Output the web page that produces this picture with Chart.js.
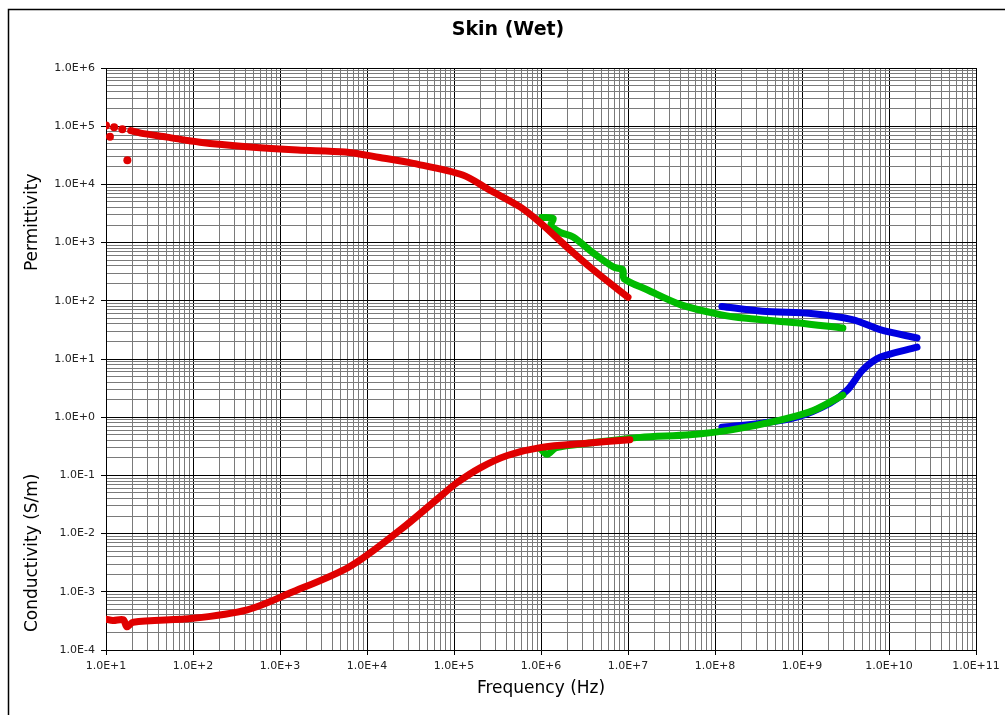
<!DOCTYPE html>
<html>
<head>
<meta charset="utf-8">
<title>Skin (Wet)</title>
<script src="https://cdn.jsdelivr.net/npm/chart.js@4.4.1/dist/chart.umd.min.js"></script>
<style>
  body { margin: 0; background: #fff; }
  canvas { display: block; }
</style>
</head>
<body>
<canvas id="skinChart" width="1005" height="715"></canvas>
<script>
// values: frequency in Hz, permittivity / conductivity (S/m)

// red set, low frequency range
const redScatterFreq = [10, 11.1, 12.4, 15.4, 17.6];
const redScatterVal = [1.03e5, 6.6e4, 9.6e4, 8.9e4, 2.6e4];
const redPermFreq = [19.2, 25, 50, 120, 450, 1600, 5600, 14000, 34000, 126000, 257000, 575000, 977000, 2.0e6, 4.0e6, 1.0e7];
const redPermVal = [8.4e4, 7.6e4, 6.5e4, 5.3e4, 4.4e4, 3.9e4, 3.6e4, 2.9e4, 2.3e4, 1.45e4, 8.0e3, 4.1e3, 2.2e3, 830, 340, 115];
const redCondFreq = [10, 12, 15.8, 17.4, 20.5, 100, 420, 1300, 6300, 24000, 69000, 107000, 200000, 410000, 977000, 3.6e6, 1.05e7];
const redCondVal = [3.4e-4, 3.2e-4, 3.3e-4, 2.5e-4, 3.0e-4, 3.5e-4, 4.9e-4, 9.5e-4, 2.7e-3, 1.15e-2, 4.3e-2, 7.4e-2, 0.135, 0.22, 0.30, 0.36, 0.41];

// green set, middle range
const greenPermFreq = [1.02e6, 1.38e6, 1.3e6, 1.66e6, 2.34e6, 4.0e6, 6.8e6, 8.7e6, 9.0e6, 1.66e7, 4.0e7, 1.15e8, 2.3e8, 8.7e8, 2.95e9];
const greenPermVal = [2.7e3, 2.6e3, 2.0e3, 1.5e3, 1.25e3, 660, 380, 340, 240, 155, 86, 58, 50, 42, 34];
const greenCondFreq = [1.0e6, 1.17e6, 1.5e6, 3.6e6, 1.38e7, 5.1e7, 1.48e8, 5.6e8, 1.35e9, 2.95e9];
const greenCondVal = [0.28, 0.23, 0.30, 0.36, 0.45, 0.50, 0.60, 0.89, 1.3, 2.4];

// blue set, high range
const bluePermFreq = [1.2e8, 3.5e8, 1.35e9, 3.9e9, 7.9e9, 2.1e10];
const bluePermVal = [80, 66, 60, 47, 32, 23];
const blueCondFreq = [1.2e8, 3.5e8, 8.7e8, 2.1e9, 3.3e9, 5.0e9, 7.9e9, 2.1e10];
const blueCondVal = [0.67, 0.79, 1.0, 1.75, 2.9, 6.5, 10.7, 16];

// axis ranges as powers of ten
const xExpRange = [1, 11];
const yExpRange = [-4, 6];

const RED = "#e00000";
const GREEN = "#00bb00";
const BLUE = "#0000e0";

function toPoints(xs, ys) {
  return xs.map((x, i) => ({ x: x, y: ys[i] }));
}

function isDecade(v) {
  const l = Math.log10(v);
  return Math.abs(l - Math.round(l)) < 1e-6;
}

function sciLabel(v) {
  const e = Math.round(Math.log10(v));
  return "1.0E" + (e < 0 ? "-" : "+") + Math.abs(e);
}

// 1..9 x 10^n ticks, without the 1.5 steps chart.js adds
function decadeTicks(range) {
  const ticks = [];
  for (let e = range[0]; e < range[1]; e++) {
    for (let m = 1; m < 10; m++) {
      ticks.push({ value: m * Math.pow(10, e) });
    }
  }
  ticks.push({ value: Math.pow(10, range[1]) });
  return ticks;
}

function lineSet(label, xs, ys, color) {
  return {
    label: label,
    data: toPoints(xs, ys),
    borderColor: color,
    backgroundColor: color,
    borderWidth: 7,
    borderCapStyle: "round",
    borderJoinStyle: "round",
    pointRadius: 0,
    tension: 0.3,
  };
}

const tickFont = { family: "DejaVu Sans", size: 11 };
const titleFont = { family: "DejaVu Sans", size: 17 };

function gridOpts() {
  return {
    color: (ctx) => (ctx.tick && isDecade(ctx.tick.value) ? "#000" : "#7a7a7a"),
    tickColor: (ctx) => (ctx.tick && isDecade(ctx.tick.value) ? "#000" : "rgba(0,0,0,0)"),
    tickLength: 5,
    lineWidth: 1,
  };
}

// white page + frame, and the two y titles
const framePlugin = {
  id: "frame",
  beforeDraw(chart) {
    const c = chart.ctx;
    c.save();
    c.fillStyle = "#fff";
    c.fillRect(0, 0, chart.width, chart.height);
    c.strokeStyle = "#000";
    c.lineWidth = 1.5;
    c.strokeRect(8.5, 9.5, chart.width + 10, chart.height + 10);
    c.restore();
  },
  afterDraw(chart) {
    const c = chart.ctx;
    const y = chart.scales.y;
    c.save();
    c.fillStyle = "#000";
    c.font = "17px 'DejaVu Sans'";
    c.textAlign = "center";
    c.textBaseline = "middle";
    [["Permittivity", Math.pow(10, 3.35)], ["Conductivity (S/m)", Math.pow(10, -2.33)]].forEach(([txt, v]) => {
      c.save();
      c.translate(33, y.getPixelForValue(v));
      c.rotate(-Math.PI / 2);
      c.fillText(txt, 0, 0);
      c.restore();
    });
    c.restore();
  },
};

const skinChart = new Chart(document.getElementById("skinChart"), {
  type: "line",
  data: {
    datasets: [
      {
        label: "red start",
        data: toPoints(redScatterFreq, redScatterVal),
        showLine: false,
        pointRadius: 4,
        pointBorderWidth: 0,
        pointBackgroundColor: RED,
        borderColor: RED,
      },
      lineSet("red permittivity", redPermFreq, redPermVal, RED),
      lineSet("red conductivity", redCondFreq, redCondVal, RED),
      lineSet("green permittivity", greenPermFreq, greenPermVal, GREEN),
      lineSet("green conductivity", greenCondFreq, greenCondVal, GREEN),
      lineSet("blue permittivity", bluePermFreq, bluePermVal, BLUE),
      lineSet("blue conductivity", blueCondFreq, blueCondVal, BLUE),
    ],
  },
  options: {
    responsive: false,
    animation: false,
    // left/right padding keeps the title centred on the whole frame
    layout: { padding: { left: 40, right: 29, top: 0, bottom: 0 } },
    plugins: {
      legend: { display: false },
      tooltip: { enabled: false },
      title: {
        display: true,
        text: "Skin (Wet)",
        color: "#000",
        font: { family: "DejaVu Sans", size: 19, weight: "bold" },
        padding: { top: 18.6, bottom: 26.6 },
      },
    },
    scales: {
      x: {
        type: "logarithmic",
        min: Math.pow(10, xExpRange[0]),
        max: Math.pow(10, xExpRange[1]),
        afterBuildTicks: (scale) => { scale.ticks = decadeTicks(xExpRange); },
        afterFit: (scale) => { scale.height = 65; },
        grid: gridOpts(),
        border: { color: "#000", width: 1 },
        ticks: {
          autoSkip: false,
          maxRotation: 0,
          padding: 5,
          color: "#222",
          font: tickFont,
          callback: (v) => (isDecade(v) ? sciLabel(v) : ""),
        },
        title: {
          display: true,
          text: "Frequency (Hz)",
          color: "#000",
          font: titleFont,
          padding: { top: 0, bottom: 16 },
        },
      },
      y: {
        type: "logarithmic",
        min: Math.pow(10, yExpRange[0]),
        max: Math.pow(10, yExpRange[1]),
        afterBuildTicks: (scale) => { scale.ticks = decadeTicks(yExpRange); },
        afterFit: (scale) => { scale.width = 66; },
        grid: gridOpts(),
        border: { color: "#000", width: 1 },
        ticks: {
          autoSkip: false,
          padding: 6,
          color: "#222",
          font: tickFont,
          callback: (v) => (isDecade(v) ? sciLabel(v) : ""),
        },
      },
    },
  },
  plugins: [framePlugin],
});
</script>
</body>
</html>
